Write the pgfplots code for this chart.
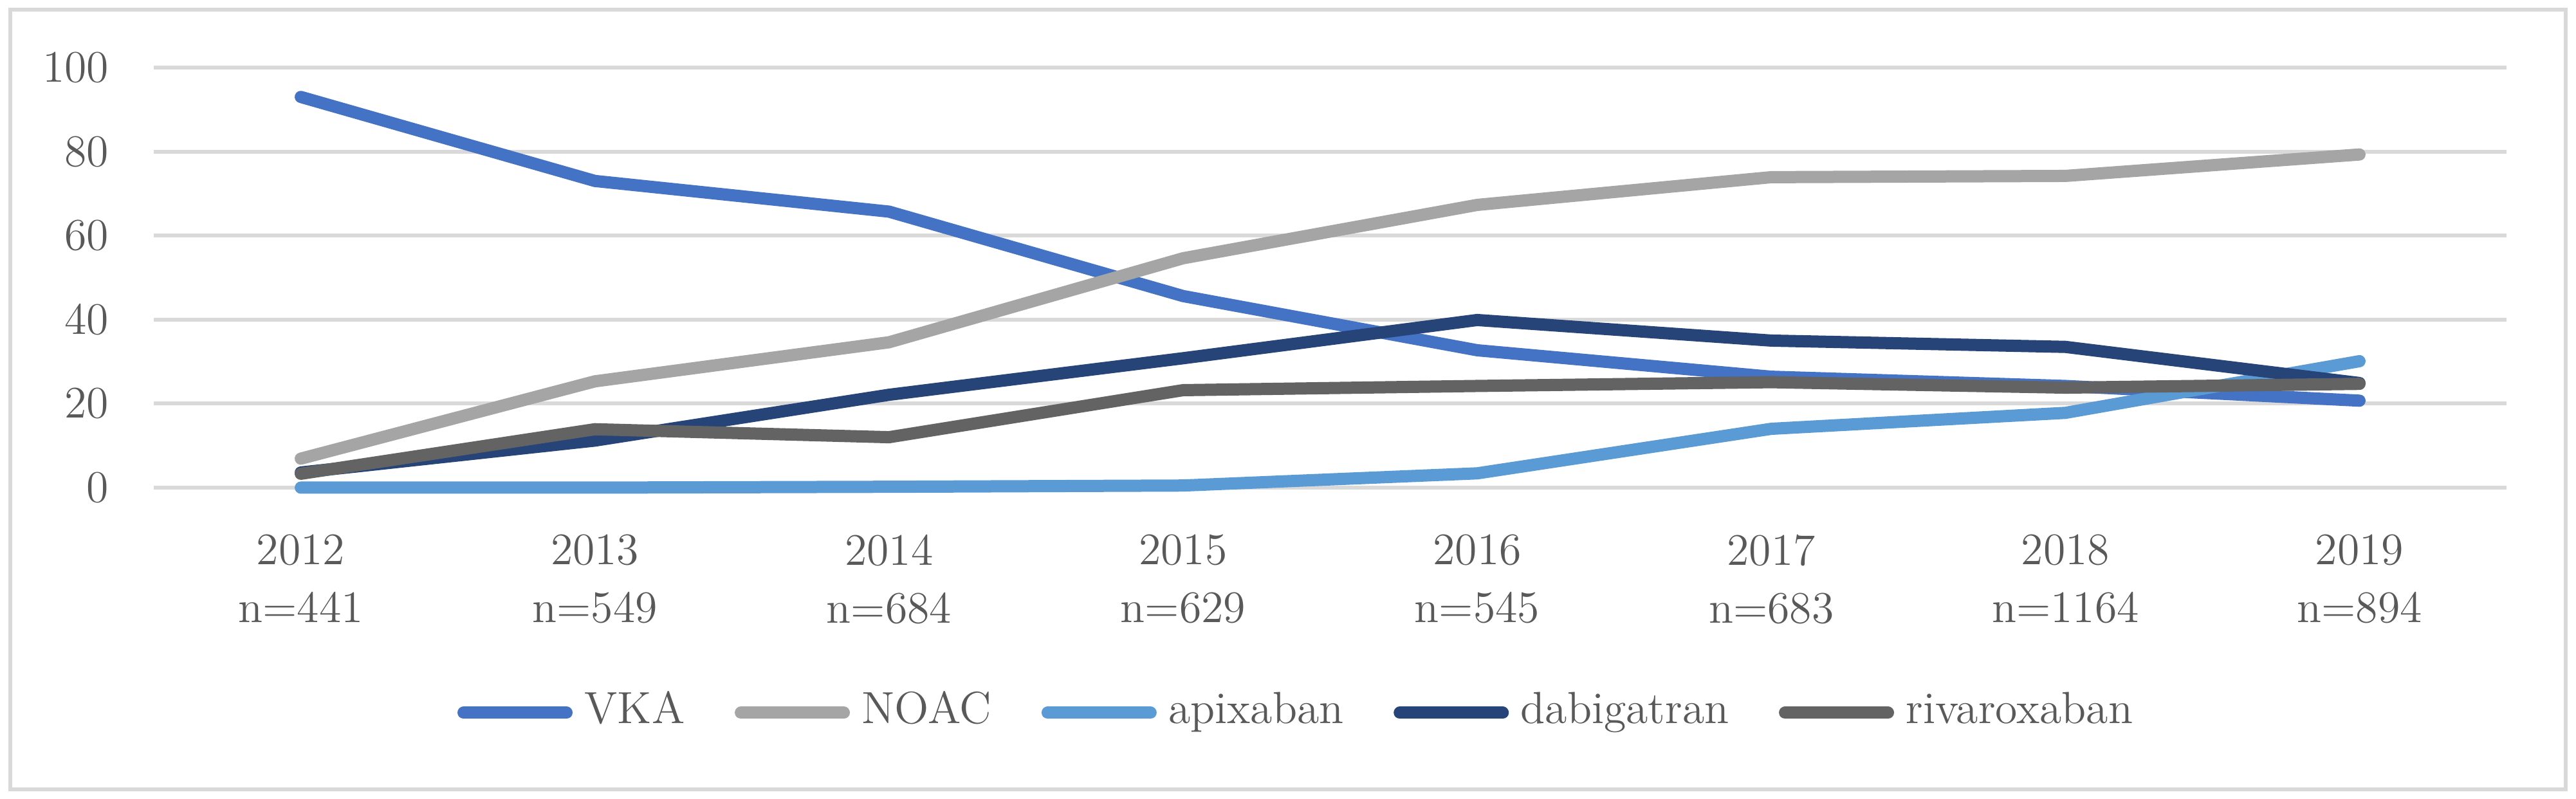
\documentclass[border=0pt]{standalone}
\usepackage{pgfplots}
\usepackage{pgfplotstable}
\pgfplotsset{compat=1.18}

\definecolor{cvka}{HTML}{4472C4}
\definecolor{cnoac}{HTML}{A5A5A5}
\definecolor{capix}{HTML}{5B9BD5}
\definecolor{cdabi}{HTML}{264478}
\definecolor{criva}{HTML}{636363}
\definecolor{txt}{HTML}{595959}
\definecolor{grd}{HTML}{D9D9D9}

% share of patients (%) per year
\pgfplotstableread{
x vka  noac apix dabi riva
0 93.0 6.9  0.0  3.6  3.3
1 73.0 25.3 0.0  11.2 13.9
2 65.7 34.6 0.2  22.1 12.0
3 45.6 54.6 0.5  30.8 23.2
4 32.7 67.3 3.4  39.9 24.2
5 26.4 73.9 14.0 35.0 25.1
6 24.2 74.2 17.8 33.5 23.8
7 20.7 79.3 30.1 24.9 24.7
}\datatable

\begin{document}
\begin{tikzpicture}
\path[use as bounding box] (0,0) rectangle (800.8pt,248.4pt);
\draw[grd, line width=1.1pt] (3.2pt,3pt) rectangle (797.6pt,245.4pt);
\begin{axis}[
    at={(47.8pt,96.8pt)}, anchor=south west,
    scale only axis,
    width=731.4pt, height=130.6pt,
    xmin=-0.5, xmax=7.5,
    ymin=0, ymax=100,
    clip=false,
    xtick={0,...,7},
    xticklabels={{2012\\n=441},{2013\\n=549},{2014\\n=684},{2015\\n=629},
                 {2016\\n=545},{2017\\n=683},{2018\\n=1164},{2019\\n=894}},
    ytick={0,20,...,100},
    axis line style={draw=none},
    tick style={draw=none},
    ymajorgrids,
    grid style={grd, line width=1.2pt},
    /pgf/number format/assume math mode=true,
    ticklabel style={text=txt, font=\fontsize{14}{18}\selectfont},
    yticklabel style={inner sep=0pt, xshift=-13.8pt},
    xticklabel style={align=center, inner sep=0pt, anchor=north, yshift=-14.4pt},
    legend columns=5,
    legend cell align=left,
    legend style={draw=none, fill=none, at={(0.4851,-0.536)}, anchor=center,
        inner sep=0pt, text=txt, font=\fontsize{14}{18}\selectfont,
        nodes={inner sep=0pt, text height=0.68em, text depth=0pt},
        /tikz/every odd column/.append style={column sep=3.7pt},
        /tikz/every even column/.append style={column sep=15.5pt}},
    legend image code/.code={\draw[#1, line width=3.8pt, line cap=round] (0pt,0pt) -- (32pt,0pt);},
    every axis plot/.append style={line width=3.8pt, line cap=round, line join=round},
]
\addplot[cvka]  table[x=x, y=vka]  {\datatable};
\addplot[cnoac] table[x=x, y=noac] {\datatable};
\addplot[capix] table[x=x, y=apix] {\datatable};
\addplot[cdabi] table[x=x, y=dabi] {\datatable};
\addplot[criva] table[x=x, y=riva] {\datatable};
\legend{VKA, NOAC, apixaban, dabigatran, rivaroxaban}
\end{axis}
\end{tikzpicture}
\end{document}
